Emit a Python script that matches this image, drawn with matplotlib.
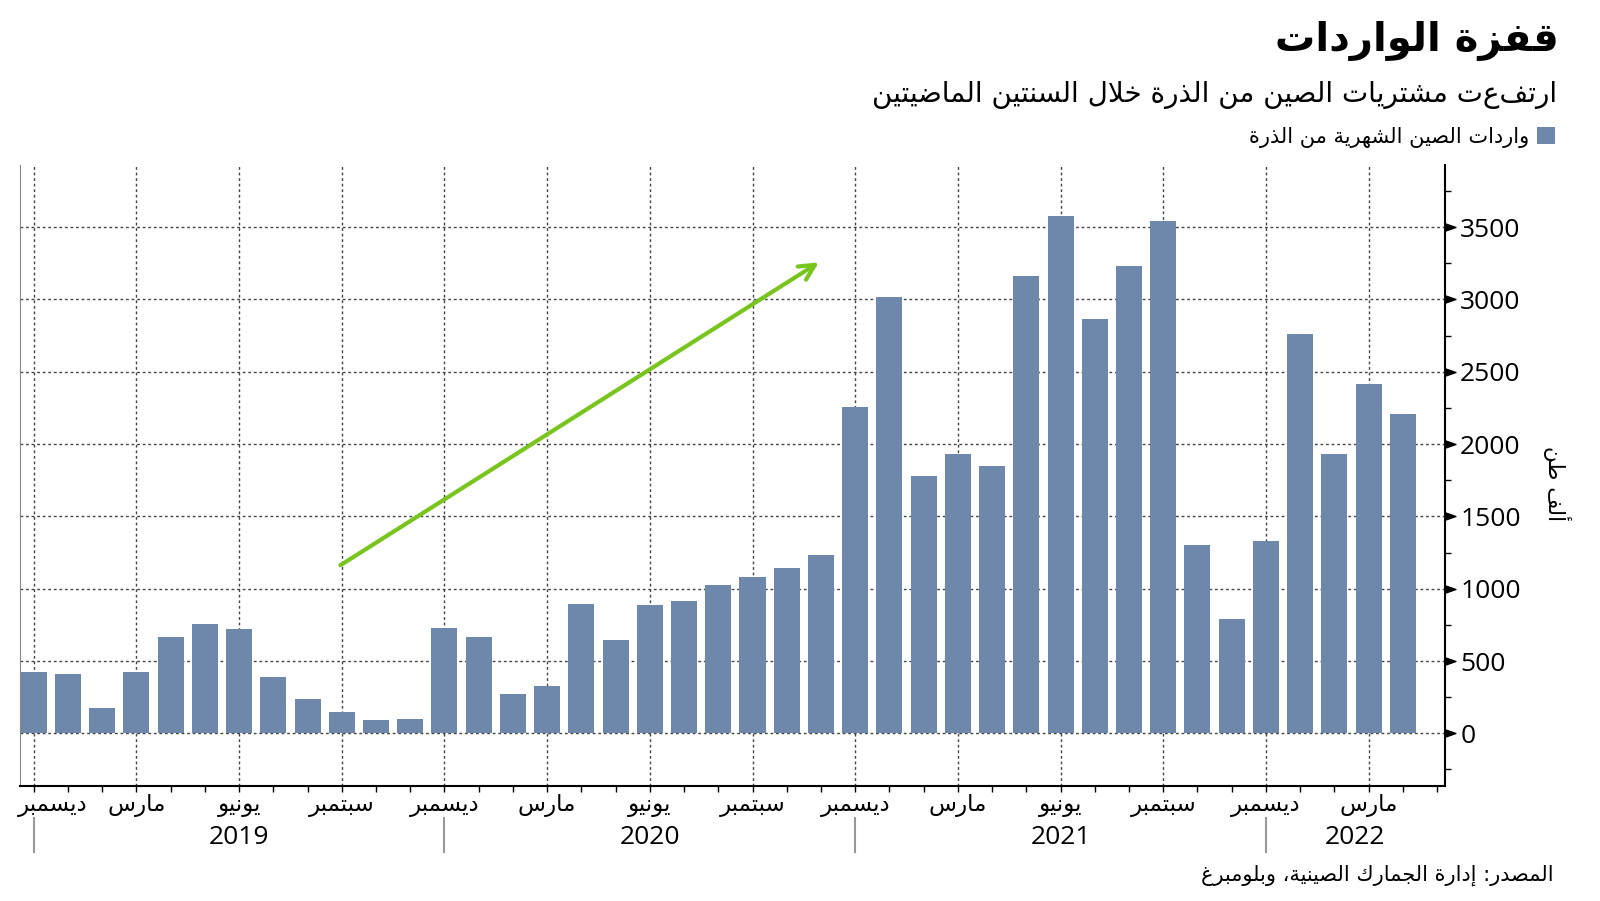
import matplotlib
matplotlib.use("Agg")
import matplotlib.pyplot as plt
from matplotlib.ticker import MultipleLocator, FixedLocator
from matplotlib.path import Path
from matplotlib.transforms import ScaledTranslation

# monthly imports, thousand tonnes, Dec 2018 .. Apr 2022 (index 0 = Dec 2018)
imports = [424, 407, 174, 424, 667, 759, 722, 389, 236, 146, 90, 102,
           731, 669, 273, 326, 893, 643, 884, 912, 1028, 1083, 1146, 1236,
           2254, 3019, 1779, 1932, 1851, 3163, 3577, 2865, 3234, 3541, 1302, 792,
           1330, 2759, 1934, 2418, 2210]
months = list(range(len(imports)))

month_names = {0: "ديسمبر", 3: "مارس", 6: "يونيو", 9: "سبتمبر"}
years = ["2019", "2020", "2021", "2022"]
year_starts = [0, 12, 24, 36]

title = "قفزة الواردات"
subtitle = "ارتفعت مشتريات الصين من الذرة خلال السنتين الماضيتين"
legend_label = "واردات الصين الشهرية من الذرة"
unit_label = "ألف طن"
source = "المصدر: إدارة الجمارك الصينية، وبلومبرغ"

# trend arrow (month index, value)
arrow_from = (8.96, 1162)
arrow_to = (22.94, 3257)

BAR = "#6e88ab"
GREEN = "#78c51e"

# --- minimal arabic shaping (matplotlib has no text shaping) ---
FORMS = {
    'ا': (0xFE8D, False), 'أ': (0xFE83, False), 'إ': (0xFE87, False), 'آ': (0xFE81, False),
    'ب': (0xFE8F, True), 'ة': (0xFE93, False), 'ت': (0xFE95, True), 'ج': (0xFE9D, True),
    'خ': (0xFEA5, True), 'د': (0xFEA9, False), 'ذ': (0xFEAB, False), 'ر': (0xFEAD, False),
    'ز': (0xFEAF, False), 'س': (0xFEB1, True), 'ش': (0xFEB5, True), 'ص': (0xFEB9, True),
    'ض': (0xFEBD, True), 'ط': (0xFEC1, True), 'غ': (0xFECD, True), 'ف': (0xFED1, True),
    'ق': (0xFED5, True), 'ك': (0xFED9, True), 'ل': (0xFEDD, True), 'م': (0xFEE1, True),
    'ن': (0xFEE5, True), 'ه': (0xFEE9, True), 'و': (0xFEED, False), 'ي': (0xFEF1, True),
}
LAM_ALEF = {'ا': 0xFEFB, 'أ': 0xFEF7, 'إ': 0xFEF9, 'آ': 0xFEF5}


def ar(text):
    out = []
    i = 0
    n = len(text)
    while i < n:
        ch = text[i]
        if ch not in FORMS:
            out.append(ch)
            i += 1
            continue
        prev = text[i - 1] if i > 0 else ''
        joins_prev = prev in FORMS and FORMS[prev][1]
        if ch == 'ل' and i + 1 < n and text[i + 1] in LAM_ALEF:
            out.append(chr(LAM_ALEF[text[i + 1]] + int(joins_prev)))
            i += 2
            continue
        nxt = text[i + 1] if i + 1 < n else ''
        joins_next = FORMS[ch][1] and nxt in FORMS
        base = FORMS[ch][0]
        if joins_prev and joins_next:
            code = base + 3
        elif joins_prev:
            code = base + 1
        elif joins_next:
            code = base + 2
        else:
            code = base
        out.append(chr(code))
        i += 1
    return ''.join(reversed(out))


AR_FONT = "DejaVu Sans"
NUM_FONT = "Open Sans"

fig = plt.figure(figsize=(16, 9.01), dpi=100)
ax = fig.add_axes([0.0125, 0.128, 0.8906, 0.6889])

bars = ax.bar(months, imports, width=0.76, color=BAR, zorder=2)

ax.set_xlim(-0.40, len(imports) + 0.23)
ax.set_ylim(-362, 3930)

# x axis: every month ticked, quarter months labelled
lab_pos = [m for m in range(0, len(imports)) if m % 3 == 0]
ax.xaxis.set_major_locator(FixedLocator(lab_pos))
ax.xaxis.set_minor_locator(MultipleLocator(1))
ax.set_xticklabels([ar(month_names[m % 12]) for m in lab_pos], fontfamily=AR_FONT, fontsize=16.5)
ax.tick_params(axis="x", which="both", direction="out", length=4, width=1, color="black", pad=2)
# first label is pushed inside the frame, like the original
first = ax.get_xticklabels()[0]
first.set_horizontalalignment("left")
first.set_transform(first.get_transform() + ScaledTranslation(-0.16, 0, fig.dpi_scale_trans))

# y axis on the right
ax.yaxis.tick_right()
ax.yaxis.set_major_locator(MultipleLocator(500))
ax.yaxis.set_minor_locator(MultipleLocator(250))
ax.set_yticks(range(0, 4000, 500))
ax.set_yticklabels([str(v) for v in range(0, 4000, 500)], fontfamily=NUM_FONT, fontsize=19)
ax.tick_params(axis="y", which="major", length=0, pad=11)
ax.tick_params(axis="y", which="minor", direction="out", length=4, width=1, color="black")

# triangle markers for the major y ticks
tri = Path([(0, -0.35), (1, 0), (0, 0.35), (0, -0.35)],
           [Path.MOVETO, Path.LINETO, Path.LINETO, Path.CLOSEPOLY])
yt = list(range(0, 4000, 500))
ax.plot([1] * len(yt), yt, linestyle="none", marker=tri, markersize=15, color="black",
        transform=ax.get_yaxis_transform(), clip_on=False, zorder=5)

ax.grid(axis="both", which="major", linestyle=(0, (2, 2)), color="#444444", linewidth=1, zorder=0)

ax.spines["top"].set_visible(False)
ax.spines["left"].set_color("#888888")
ax.spines["right"].set_linewidth(1.5)
ax.spines["bottom"].set_linewidth(1.5)

# year dividers and labels
trans = ax.get_xaxis_transform()
for x0 in year_starts:
    ax.plot([x0, x0], [-0.052, -0.107], color="#999999", lw=1.5, transform=trans, clip_on=False)
ends = year_starts[1:] + [ax.get_xlim()[1]]
for y, a, b in zip(years, year_starts, ends):
    ax.text((a + b) / 2, -0.083, y, transform=trans, ha="center", va="center",
            fontfamily=NUM_FONT, fontsize=19)

ax.annotate("", xy=arrow_to, xytext=arrow_from,
            arrowprops=dict(arrowstyle="->", color=GREEN, lw=3, mutation_scale=28,
                            shrinkA=0, shrinkB=0), zorder=4)

# titles and notes
fig.text(0.974, 0.954, ar(title), ha="right", va="center", fontfamily=AR_FONT,
         fontweight="bold", fontsize=29)
fig.text(0.9735, 0.895, ar(subtitle), ha="right", va="center", fontfamily=AR_FONT, fontsize=20)
leg = ax.legend([bars], [ar(legend_label)], loc="upper right", bbox_to_anchor=(0.9835, 0.88),
                bbox_transform=fig.transFigure, frameon=False, markerfirst=False,
                handlelength=0.85, handleheight=0.85, handletextpad=0.4,
                prop={"family": AR_FONT, "size": 15})
fig.text(1557 / 1600, 1 - 484 / 901, ar(unit_label), rotation=270, ha="center", va="center",
         fontfamily=AR_FONT, fontsize=15.5)
fig.text(1554 / 1600, 1 - 875 / 901, ar(source), ha="right", va="center",
         fontfamily=AR_FONT, fontsize=15)

fig.savefig("out.png", dpi=100)
